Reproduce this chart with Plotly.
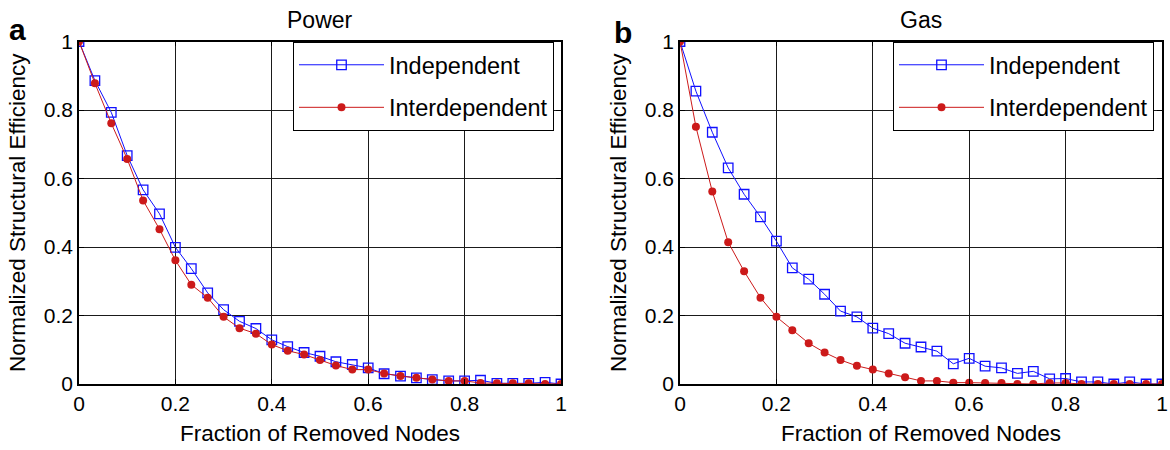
import plotly.graph_objects as go

# ---- data ----
frac_removed = [0.0, 0.033, 0.067, 0.1, 0.133, 0.167, 0.2, 0.233, 0.267, 0.3,
                0.333, 0.367, 0.4, 0.433, 0.467, 0.5, 0.533, 0.567, 0.6, 0.633,
                0.667, 0.7, 0.733, 0.767, 0.8, 0.833, 0.867, 0.9, 0.933, 0.967, 1.0]

power_independent = [1.0, 0.886, 0.793, 0.667, 0.567, 0.497, 0.399, 0.337, 0.266, 0.217,
                     0.183, 0.162, 0.129, 0.109, 0.092, 0.081, 0.065, 0.057, 0.047, 0.030,
                     0.023, 0.018, 0.013, 0.009, 0.009, 0.011, 0.002, 0.002, 0.002, 0.005, 0.0]
power_interdependent = [1.0, 0.878, 0.761, 0.657, 0.536, 0.452, 0.361, 0.290, 0.252, 0.196,
                        0.163, 0.147, 0.115, 0.097, 0.086, 0.070, 0.054, 0.042, 0.042, 0.031,
                        0.023, 0.018, 0.013, 0.009, 0.009, 0.003, 0.002, 0.002, 0.002, 0.0, 0.0]
gas_independent = [1.0, 0.855, 0.735, 0.631, 0.554, 0.488, 0.417, 0.339, 0.306, 0.262,
                   0.213, 0.196, 0.163, 0.147, 0.119, 0.108, 0.096, 0.059, 0.075, 0.052,
                   0.047, 0.031, 0.037, 0.015, 0.016, 0.006, 0.006, 0.0, 0.006, 0.0, 0.0]
gas_interdependent = [1.0, 0.751, 0.562, 0.414, 0.329, 0.252, 0.196, 0.157, 0.119, 0.092,
                      0.070, 0.053, 0.042, 0.031, 0.020, 0.009, 0.009, 0.004, 0.004, 0.003,
                      0.003, 0.0, 0.0, 0.003, 0.003, 0.0, 0.0, 0.0, 0.0, 0.0, 0.0]

tick_vals = [0, 0.2, 0.4, 0.6, 0.8, 1]
tick_text = ["0", "0.2", "0.4", "0.6", "0.8", "1"]
panel_titles = ["Power", "Gas"]
panel_letters = ["a", "b"]
series_names = ["Independent", "Interdependent"]

FONT = "Liberation Sans, Arial, sans-serif"
BLUE = "#1010ff"
RED = "#cc1a1a"

fig = go.Figure()

panels = [(power_independent, power_interdependent, "x", "y", "legend"),
          (gas_independent, gas_interdependent, "x2", "y2", "legend2")]
for indep, inter, xa, ya, lg in panels:
    fig.add_trace(go.Scatter(
        x=frac_removed, y=indep, xaxis=xa, yaxis=ya, name=series_names[0],
        mode="lines+markers", legend=lg, legendgroup=lg + "a",
        line=dict(color=BLUE, width=1),
        marker=dict(symbol="square-open", size=9.5, color=BLUE, line=dict(width=1.3)),
    ))
    fig.add_trace(go.Scatter(
        x=frac_removed, y=inter, xaxis=xa, yaxis=ya, name=series_names[1],
        mode="lines+markers", legend=lg, legendgroup=lg + "b",
        line=dict(color=RED, width=1),
        marker=dict(symbol="circle", size=8, color=RED),
    ))

axis_common = dict(
    range=[0, 1], tickvals=tick_vals, ticktext=tick_text,
    showgrid=True, gridcolor="#1a1a1a", gridwidth=1,
    showline=True, linecolor="black", linewidth=1.5, mirror="allticks",
    ticks="inside", ticklen=5, tickcolor="black", zeroline=False,
    tickfont=dict(family=FONT, size=21, color="black"), automargin=False,
)

W, H = 1170, 450
xa_dom = [79 / W, 561 / W]
xb_dom = [680 / W, 1162 / W]
y_dom = [(H - 384) / H, (H - 41.5) / H]

title_font = dict(family=FONT, size=22.5, color="black")

fig.update_layout(
    width=W, height=H,
    margin=dict(l=0, r=0, t=0, b=0),
    paper_bgcolor="white", plot_bgcolor="white",
    font=dict(family=FONT, color="black"),
    xaxis=dict(domain=xa_dom, anchor="y",
               title=dict(text="Fraction of Removed Nodes", font=title_font, standoff=11),
               **axis_common),
    yaxis=dict(domain=y_dom, anchor="x",
               title=dict(text="Normalized Structural Efficiency", font=title_font, standoff=12),
               **axis_common),
    xaxis2=dict(domain=xb_dom, anchor="y2",
                title=dict(text="Fraction of Removed Nodes", font=title_font, standoff=11),
                **axis_common),
    yaxis2=dict(domain=y_dom, anchor="x2",
                title=dict(text="Normalized Structural Efficiency", font=title_font, standoff=12),
                **axis_common),
    legend=dict(x=293 / W, y=(H - 42) / H, xanchor="left", yanchor="top",
                bordercolor="black", borderwidth=1, bgcolor="white",
                font=dict(family=FONT, size=23.5, color="black"),
                itemwidth=85, tracegroupgap=9),
    legend2=dict(x=893 / W, y=(H - 42) / H, xanchor="left", yanchor="top",
                 bordercolor="black", borderwidth=1, bgcolor="white",
                 font=dict(family=FONT, size=23.5, color="black"),
                 itemwidth=85, tracegroupgap=9),
    showlegend=True,
)

annotations = []
for i, dom in enumerate([xa_dom, xb_dom]):
    annotations.append(dict(text=panel_titles[i], x=(dom[0] + dom[1]) / 2, y=(H - 20) / H,
                            xref="paper", yref="paper", showarrow=False,
                            xanchor="center", yanchor="middle",
                            font=dict(family=FONT, size=23, color="black")))
annotations.append(dict(text="<b>a</b>", x=17 / W, y=(H - 30) / H, xref="paper", yref="paper",
                        showarrow=False, xanchor="center", yanchor="middle",
                        font=dict(family=FONT, size=30, color="black")))
annotations.append(dict(text="<b>b</b>", x=623 / W, y=(H - 32) / H, xref="paper", yref="paper",
                        showarrow=False, xanchor="center", yanchor="middle",
                        font=dict(family=FONT, size=30, color="black")))
fig.update_layout(annotations=annotations)

fig.write_html("out.html")
